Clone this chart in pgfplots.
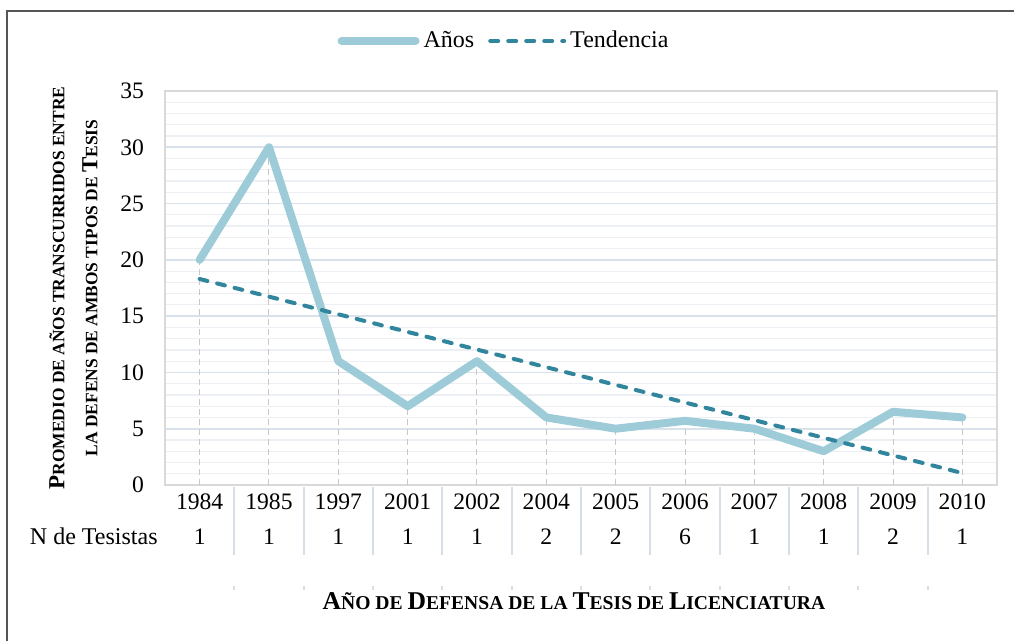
\documentclass[border=0pt]{standalone}
\usepackage{fontspec}
\setmainfont{Liberation Serif}
\usepackage{pgfplots}
\usepackage{pgfplotstable}
\pgfplotsset{compat=1.18}
\definecolor{anos}{RGB}{158,203,216}
\definecolor{trend}{RGB}{49,133,156}
\definecolor{majgrid}{RGB}{217,225,234}
\definecolor{mingrid}{RGB}{236,240,244}
\definecolor{sepc}{RGB}{214,223,232}
\definecolor{framec}{RGB}{85,85,85}
\definecolor{dropc}{RGB}{200,200,200}
\newcommand\bigc[1]{{\fontsize{11.5}{13}\selectfont #1}}
\newcommand\smc[1]{{\fontsize{8.7}{10}\selectfont #1}}
\newcommand\bigx[1]{{\fontsize{12.8}{14}\selectfont #1}}
\newcommand\smx[1]{{\fontsize{9.8}{11}\selectfont #1}}

\pgfplotstableread{
x anos
0 20
1 30
2 11
3 7
4 11
5 6
6 5
7 5.7
8 5
9 3
10 6.5
11 6
}\datatable

\pgfplotstableread{
x trend
0 18.30
11 1.06
}\trendtable

\begin{document}
\begin{tikzpicture}
\useasboundingbox (0,0) rectangle (507pt,320.5pt);
\draw[framec, line width=1pt] (3.5pt,-10pt) -- (3.5pt,315pt) -- (520pt,315pt);
\begin{axis}[
 at={(82.5pt,78pt)}, anchor=south west,
 scale only axis, width=416pt, height=197pt,
 xmin=-0.5, xmax=11.5, ymin=0, ymax=35,
 xtick={0,...,11},
 xticklabels={{1984\\1},{1985\\1},{1997\\1},{2001\\1},{2002\\1},{2004\\2},{2005\\2},{2006\\6},{2007\\1},{2008\\1},{2009\\2},{2010\\1}},
 ytick={0,5,...,35},
 minor y tick num=4,
 ymajorgrids, yminorgrids,
 major grid style={majgrid, line width=0.8pt},
 minor grid style={mingrid, line width=0.6pt},
 major tick length=0pt, minor tick length=0pt,
 axis line style={draw=black!15, line width=0.8pt},
 /pgf/number format/assume math mode=true,
 tick label style={font=\fontsize{11.8}{17.5}\selectfont},
 xticklabel style={align=center, anchor=north, yshift=-1pt},
 yticklabel style={anchor=east, xshift=-7pt},
 ylabel={\bigc{P}\smc{ROMEDIO DE AÑOS TRANSCURRIDOS ENTRE}\\\smc{LA DEFENS DE AMBOS TIPOS DE }\bigc{T}\smc{ESIS}},
 ylabel style={align=center, font=\bfseries\fontsize{11}{16.5}\selectfont, at={(axis description cs:-0.110,0.5)}, anchor=center},
 xlabel={\bigx{A}\smx{ÑO DE }\bigx{D}\smx{EFENSA DE LA }\bigx{T}\smx{ESIS DE }\bigx{L}\smx{ICENCIATURA}},
 xlabel style={font=\bfseries, at={(axis description cs:0.4916,-0.2944)}, anchor=center},
 legend style={at={(axis description cs:0.4087,1.127)}, anchor=center, draw=none, fill=none,
   legend columns=-1, font=\fontsize{12}{14}\selectfont,
   /tikz/every even column/.append style={column sep=5pt}},
 legend image code/.code={\draw[#1] (0pt,0pt) -- (37pt,0pt);},
 clip=false,
]
\addplot[ycomb, dropc, line width=0.5pt, dash pattern=on 3pt off 2pt, no marks, forget plot] table[x=x, y=anos] {\datatable};
\addplot[anos, line width=4pt, line join=round, line cap=round, no marks] table[x=x, y=anos] {\datatable};
\addlegendentry{Años}
\addplot[trend, line width=2pt, dash pattern=on 4pt off 5pt, line cap=round, no marks] table[x=x, y=trend] {\trendtable};
\addlegendentry{Tendencia}
\pgfplotsinvokeforeach{0,...,10}{
  \draw[sepc, line width=1pt] (axis cs:#1+0.5,0) ++(0pt,-1pt) -- ++(0pt,-34pt);
  \draw[sepc, line width=1pt] (axis cs:#1+0.5,0) ++(0pt,-50.5pt) -- ++(0pt,-2pt);
}
\end{axis}
\node[anchor=east, font=\fontsize{12}{14}\selectfont, inner sep=0pt] at (79pt,52.5pt) {N de Tesistas};
\end{tikzpicture}
\end{document}
